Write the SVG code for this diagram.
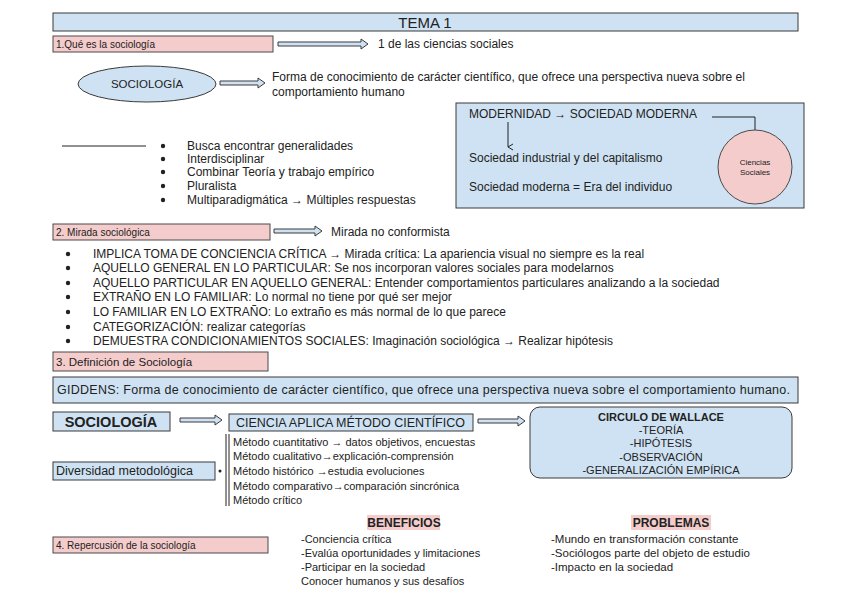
<svg xmlns="http://www.w3.org/2000/svg" width="848" height="599" viewBox="0 0 848 599">
<style>
text{font-family:"Liberation Sans",Arial,sans-serif;fill:#222;font-size:12px}
.blue{fill:#cfe2f3;stroke:#3a3a3a;stroke-width:1}
.pink{fill:#f4cccc;stroke:#4a4a4a;stroke-width:1}
.darrow{fill:#cfe2f3;stroke:#3a3a3a;stroke-width:1;stroke-linejoin:miter}
.line{fill:none;stroke:#222;stroke-width:1}
.lbl{font-size:10px}
.sm{font-size:11px}
.b{font-weight:bold}
.mid{text-anchor:middle}
.hl{fill:#f4cccc;stroke:none}
.dot{fill:#222}
</style>
<defs>
<marker id="vhead" markerWidth="8" markerHeight="8" refX="4" refY="6" orient="auto" markerUnits="userSpaceOnUse">
<path d="M1,1 L4,6 L7,1" fill="none" stroke="#222" stroke-width="1"/>
</marker>
</defs>
<rect width="848" height="599" fill="#ffffff"/>

<g id="tema">
<rect class="blue" x="53" y="13" width="745" height="18"/>
<text x="425" y="28" class="mid" style="font-size:15px">TEMA 1</text>
</g>

<g id="sec1">
<rect class="pink" x="53" y="36" width="220" height="16"/>
<text x="56" y="48" class="lbl">1.Qué es la sociología</text>
</g>
<g id="ciencias-sociales-txt"><text x="378" y="48">1 de las ciencias sociales</text></g>

<g id="sociologia-ellipse">
<ellipse class="blue" cx="147" cy="84" rx="69" ry="18"/>
<text x="147" y="88" class="mid" style="font-size:11.5px">SOCIOLOGÍA</text>
</g>
<g id="forma-txt">
<text x="272" y="81">Forma de conocimiento de carácter científico, que ofrece una perspectiva nueva sobre el</text>
<text x="272" y="96">comportamiento humano</text>
</g>

<g id="caracteristicas">
<circle class="dot" cx="163" cy="146" r="2.2"/>
<circle class="dot" cx="163" cy="159" r="2.2"/>
<circle class="dot" cx="163" cy="172" r="2.2"/>
<circle class="dot" cx="163" cy="186" r="2.2"/>
<circle class="dot" cx="163" cy="200" r="2.2"/>
<text x="187" y="150">Busca encontrar generalidades</text>
<text x="187" y="163">Interdisciplinar</text>
<text x="187" y="176">Combinar Teoría y trabajo empírico</text>
<text x="187" y="190">Pluralista</text>
<text x="187" y="204">Multiparadigmática → Múltiples respuestas</text>
</g>

<g id="modernidad">
<rect class="blue" x="456" y="103" width="348" height="105"/>
<text x="469" y="118">MODERNIDAD → SOCIEDAD MODERNA</text>
<text x="469" y="162">Sociedad industrial y del capitalismo</text>
<text x="469" y="191">Sociedad moderna = Era del individuo</text>
</g>
<g id="ciencias-circle">
<circle class="pink" cx="755" cy="167" r="37"/>
<text x="755" y="165" class="mid" style="font-size:8px">Ciencias</text>
<text x="755" y="175" class="mid" style="font-size:8px">Sociales</text>
</g>

<g id="sec2">
<rect class="pink" x="53" y="224" width="217" height="16"/>
<text x="56" y="236" class="lbl">2. Mirada sociológica</text>
</g>
<g id="mirada-txt"><text x="331" y="236">Mirada no conformista</text></g>

<g id="mirada-list">
<circle class="dot" cx="68" cy="254" r="2.2"/>
<circle class="dot" cx="68" cy="268" r="2.2"/>
<circle class="dot" cx="68" cy="283" r="2.2"/>
<circle class="dot" cx="68" cy="297" r="2.2"/>
<circle class="dot" cx="68" cy="312" r="2.2"/>
<circle class="dot" cx="68" cy="327" r="2.2"/>
<circle class="dot" cx="68" cy="341" r="2.2"/>
<text x="93" y="258">IMPLICA TOMA DE CONCIENCIA CRÍTICA  → Mirada crítica: La apariencia visual no siempre es la real</text>
<text x="93" y="272">AQUELLO GENERAL EN LO PARTICULAR: Se nos incorporan valores sociales para modelarnos</text>
<text x="93" y="287">AQUELLO PARTICULAR EN AQUELLO GENERAL: Entender comportamientos particulares analizando a la sociedad</text>
<text x="93" y="301">EXTRAÑO EN LO FAMILIAR: Lo normal no tiene por qué ser mejor</text>
<text x="93" y="316">LO FAMILIAR EN LO EXTRAÑO: Lo extraño es más normal de lo que parece</text>
<text x="93" y="331">CATEGORIZACIÓN: realizar categorías</text>
<text x="93" y="345">DEMUESTRA CONDICIONAMIENTOS SOCIALES: Imaginación sociológica → Realizar hipótesis</text>
</g>

<g id="sec3">
<rect class="pink" x="53" y="352" width="215" height="19"/>
<text x="56" y="366" style="font-size:11.5px">3. Definición de Sociología</text>
</g>
<g id="giddens">
<rect class="blue" x="53" y="377" width="745" height="26"/>
<text x="57" y="394" style="font-size:12.5px" textLength="733" lengthAdjust="spacing">GIDDENS: Forma de conocimiento de carácter científico, que ofrece una perspectiva nueva sobre el comportamiento humano.</text>
</g>

<g id="sociologia-box">
<rect class="blue" x="53" y="412" width="117" height="19"/>
<text x="111" y="427" class="mid b" style="font-size:14.5px">SOCIOLOGÍA</text>
</g>
<g id="ciencia-box">
<rect class="blue" x="229" y="414" width="244" height="17"/>
<text x="236" y="427" style="font-size:12.5px">CIENCIA APLICA MÉTODO CIENTÍFICO</text>
</g>
<g id="wallace">
<rect class="blue" x="530" y="407" width="262" height="71" rx="10"/>
<text x="661" y="421" class="mid b sm">CIRCULO DE WALLACE</text>
<text x="661" y="434" class="mid sm">-TEORÍA</text>
<text x="661" y="447" class="mid sm">-HIPÓTESIS</text>
<text x="661" y="461" class="mid sm">-OBSERVACIÓN</text>
<text x="661" y="474" class="mid sm">-GENERALIZACIÓN EMPÍRICA</text>
</g>

<g id="diversidad">
<rect class="blue" x="53" y="462" width="162" height="18"/>
<text x="56" y="475" style="font-size:12.5px">Diversidad metodológica</text>
</g>
<g id="metodos">
<text x="233" y="446" class="sm">Método cuantitativo → datos objetivos, encuestas</text>
<text x="233" y="460" class="sm">Método cualitativo→explicación-comprensión</text>
<text x="233" y="475" class="sm">Método histórico →estudia evoluciones</text>
<text x="233" y="490" class="sm">Método comparativo→comparación sincrónica</text>
<text x="233" y="504" class="sm">Método crítico</text>
</g>

<g id="sec4">
<rect class="pink" x="53" y="537" width="215" height="16"/>
<text x="56" y="549" class="lbl">4. Repercusión de la sociología</text>
</g>
<g id="beneficios">
<rect class="hl" x="367" y="515" width="73" height="15"/>
<text x="404" y="527" class="mid b">BENEFICIOS</text>
<text x="301" y="543" class="sm">-Conciencia crítica</text>
<text x="301" y="557" class="sm">-Evalúa oportunidades y limitaciones</text>
<text x="301" y="571" class="sm">-Participar en la sociedad</text>
<text x="301" y="585" class="sm">Conocer humanos y sus desafíos</text>
</g>
<g id="problemas">
<rect class="hl" x="631" y="515" width="80" height="15"/>
<text x="671" y="527" class="mid b">PROBLEMAS</text>
<text x="551" y="543" style="font-size:11.5px">-Mundo en transformación constante</text>
<text x="551" y="557" style="font-size:11.5px">-Sociólogos parte del objeto de estudio</text>
<text x="551" y="571" style="font-size:11.5px">-Impacto en la sociedad</text>
</g>

<g id="connectors">
<path class="darrow" d="M278,42 H361 V39 L368,44 L361,49 V46 H278 Z"/>
<path class="darrow" d="M220,81 H258 V78 L265,83 L258,88 V85 H220 Z"/>
<path class="darrow" d="M274,229 H315 V226 L322,231 L315,236 V233 H274 Z"/>
<path class="darrow" d="M180,418 H215 V415 L222,420 L215,425 V422 H180 Z"/>
<path class="darrow" d="M478,419 H518 V416 L525,421 L518,426 V423 H478 Z"/>
<line class="line" x1="62" y1="146" x2="146" y2="146"/>
<path class="line" d="M508,122 V147" marker-end="url(#vhead)"/>
<path class="line" d="M712,117 H755 V130"/>
<line class="line" x1="226" y1="434" x2="226" y2="506"/>
<line class="line" x1="229" y1="434" x2="229" y2="506"/>
<circle class="dot" cx="220" cy="471" r="1.5"/>
</g>
</svg>
